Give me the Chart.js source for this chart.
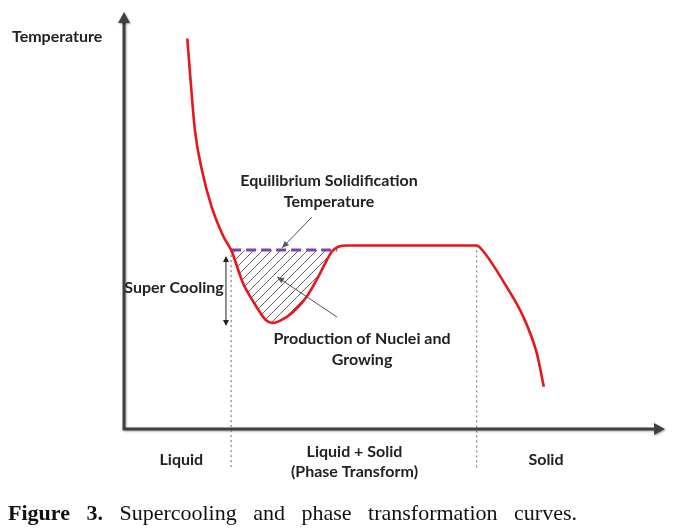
<!DOCTYPE html>
<html>
<head>
<meta charset="utf-8">
<script src="https://cdn.jsdelivr.net/npm/chart.js@4"></script>
<style>
  body { margin: 0; background: #fff; }
  #wrap { position: relative; width: 682px; height: 531px; }
  #caption {
    position: absolute; left: 8px; top: 500px; width: 569px;
    font-family: "Liberation Serif", "Times New Roman", serif; font-size: 22px;
    color: #111; text-align: justify; text-align-last: justify;
  }
</style>
</head>
<body>
<div id="wrap">
  <canvas id="phaseChart" width="682" height="531"></canvas>
  <div id="caption"><b>Figure 3.</b> Supercooling and phase transformation curves.</div>
</div>
<script>
// cooling curve (time in %, temperature in %)
const curveX = [11.7, 12.3, 13.1, 14.4, 16.2, 18.4, 19.8, 22.0, 23.7, 25.1, 26.2, 27.4, 28.8, 31.3, 33.8, 35.9, 37.5, 38.4, 39.6, 41.2, 43.0, 65.2, 66.1, 70.7, 73.8, 76.3, 77.6];
const curveY = [93.2, 83.3, 71.4, 61.8, 53.0, 45.9, 42.7, 34.8, 30.8, 27.9, 26.0, 25.3, 25.8, 28.0, 31.6, 36.3, 40.3, 42.3, 43.5, 43.8, 43.8, 43.8, 42.9, 34.0, 26.8, 18.1, 10.1];

// supercooled dip (hatched region below the equilibrium line)
const dipX = [19.8, 22.0, 23.7, 25.1, 26.2, 27.4, 28.8, 31.3, 33.8, 35.9, 37.5, 38.4, 38.9];
const dipY = [42.7, 34.8, 30.8, 27.9, 26.0, 25.3, 25.8, 28.0, 31.6, 36.3, 40.3, 42.3, 42.7];

// equilibrium solidification temperature
const eqTemp = 42.7;
const eqRange = [19.8, 39.4];

// phase boundaries (x) and where the dotted guides start / end
const boundaryX = [19.8, 65.2];
const boundaryTop = [42.7, 43.8];
const boundaryBottom = -9.8;

// region labels under the time axis
const regionLabels = [['Liquid'], ['Liquid + Solid', '(Phase Transform)'], ['Solid']];
const regionCenters = [10.6, 42.6, 78.0];

function hatchPattern() {
  const c = document.createElement('canvas');
  c.width = 9; c.height = 9;
  const g = c.getContext('2d');
  g.strokeStyle = '#555';
  g.lineWidth = 0.9;
  g.beginPath();
  g.moveTo(0, 9); g.lineTo(9, 0);
  g.moveTo(-1, 1); g.lineTo(1, -1);
  g.moveTo(8, 10); g.lineTo(10, 8);
  g.stroke();
  return g.createPattern(c, 'repeat');
}

function head(ctx, x1, y1, x2, y2, len, half) {
  const a = Math.atan2(y2 - y1, x2 - x1);
  ctx.beginPath();
  ctx.moveTo(x2, y2);
  ctx.lineTo(x2 - len * Math.cos(a) + half * Math.sin(a), y2 - len * Math.sin(a) - half * Math.cos(a));
  ctx.lineTo(x2 - len * Math.cos(a) - half * Math.sin(a), y2 - len * Math.sin(a) + half * Math.cos(a));
  ctx.closePath();
  ctx.fill();
}

const FONT = 'bold 16px Lato, "Liberation Sans", sans-serif';

const schematic = {
  id: 'schematic',
  beforeDatasetsDraw(chart) {
    const { ctx, scales: { x, y } } = chart;
    const x0 = x.getPixelForValue(0), y0 = y.getPixelForValue(0);
    const yTip = y.getPixelForValue(99.5), xTip = x.getPixelForValue(100);
    ctx.save();
    ctx.shadowColor = 'rgba(0,0,0,0.35)';
    ctx.shadowBlur = 2; ctx.shadowOffsetX = 1; ctx.shadowOffsetY = 1;
    ctx.strokeStyle = '#404040'; ctx.fillStyle = '#404040';
    ctx.lineWidth = 3; ctx.lineJoin = 'miter';
    ctx.beginPath();
    ctx.moveTo(x0, yTip + 8); ctx.lineTo(x0, y0); ctx.lineTo(xTip - 8, y0);
    ctx.stroke();
    head(ctx, x0, y0, x0, yTip, 11, 6);
    head(ctx, x0, y0, xTip, y0, 11, 6);
    ctx.restore();
  },
  afterDatasetsDraw(chart) {
    const { ctx, scales: { x, y } } = chart;
    const X = v => x.getPixelForValue(v), Y = v => y.getPixelForValue(v);
    ctx.save();

    // pointer arrows
    ctx.strokeStyle = '#555'; ctx.fillStyle = '#555'; ctx.lineWidth = 1;
    [[34.75, 50.6, 29.2, 43.2], [39.4, 26.7, 28.3, 36.3]].forEach(([a, b, c, d]) => {
      ctx.beginPath(); ctx.moveTo(X(a), Y(b)); ctx.lineTo(X(c), Y(d)); ctx.stroke();
      head(ctx, X(a), Y(b), X(c), Y(d), 7, 3);
    });

    // super cooling double arrow
    ctx.strokeStyle = '#222'; ctx.fillStyle = '#222';
    const sx = X(18.85), sTop = Y(41.3), sBot = Y(24.6);
    ctx.beginPath(); ctx.moveTo(sx, sTop + 3); ctx.lineTo(sx, sBot - 3); ctx.stroke();
    head(ctx, sx, sBot, sx, sTop, 6, 3);
    head(ctx, sx, sTop, sx, sBot, 6, 3);

    // text
    ctx.fillStyle = '#222';
    ctx.font = FONT;
    ctx.textBaseline = 'middle';
    ctx.textAlign = 'left';
    ctx.fillText('Temperature', 12, 37);
    ctx.textAlign = 'center';
    ctx.fillText('Equilibrium Solidification', 329, 181);
    ctx.fillText('Temperature', 329, 202);
    ctx.fillText('Super Cooling', 174, 288);
    ctx.fillText('Production of Nuclei and', 362, 339);
    ctx.fillText('Growing', 362, 360);

    regionLabels.forEach((lines, i) => {
      const cy = lines.length === 1 ? 460 : 452;
      lines.forEach((t, j) => ctx.fillText(t, X(regionCenters[i]), cy + j * 20));
    });
    ctx.restore();
  }
};

const pts = (xs, ys) => xs.map((v, i) => ({ x: v, y: ys[i] }));

new Chart(document.getElementById('phaseChart'), {
  type: 'scatter',
  data: {
    datasets: [
      {
        data: pts(curveX, curveY),
        showLine: true, borderColor: '#e8161c', borderWidth: 2.6,
        pointRadius: 0, cubicInterpolationMode: 'monotone', fill: false
      },
      {
        data: pts(eqRange, eqRange.map(() => eqTemp)),
        showLine: true, borderColor: '#7a44b0', borderWidth: 3,
        borderDash: [10, 5], pointRadius: 0, fill: false
      },
      {
        data: pts(dipX, dipY),
        showLine: true, borderWidth: 0, borderColor: 'rgba(0,0,0,0)',
        pointRadius: 0, cubicInterpolationMode: 'monotone',
        fill: { value: eqTemp }, backgroundColor: hatchPattern()
      },
      ...boundaryX.map((bx, i) => ({
        data: [{ x: bx, y: boundaryTop[i] }, { x: bx, y: boundaryBottom }],
        showLine: true, borderColor: '#666', borderWidth: 1,
        borderDash: [2, 3], pointRadius: 0, fill: false, clip: false
      }))
    ]
  },
  options: {
    responsive: false,
    animation: false,
    layout: { padding: { left: 124, right: 17, top: 10, bottom: 102 } },
    scales: {
      x: { type: 'linear', min: 0, max: 100, display: false },
      y: { type: 'linear', min: 0, max: 100, display: false }
    },
    plugins: { legend: { display: false }, tooltip: { enabled: false } }
  },
  plugins: [schematic]
});
</script>
</body>
</html>
